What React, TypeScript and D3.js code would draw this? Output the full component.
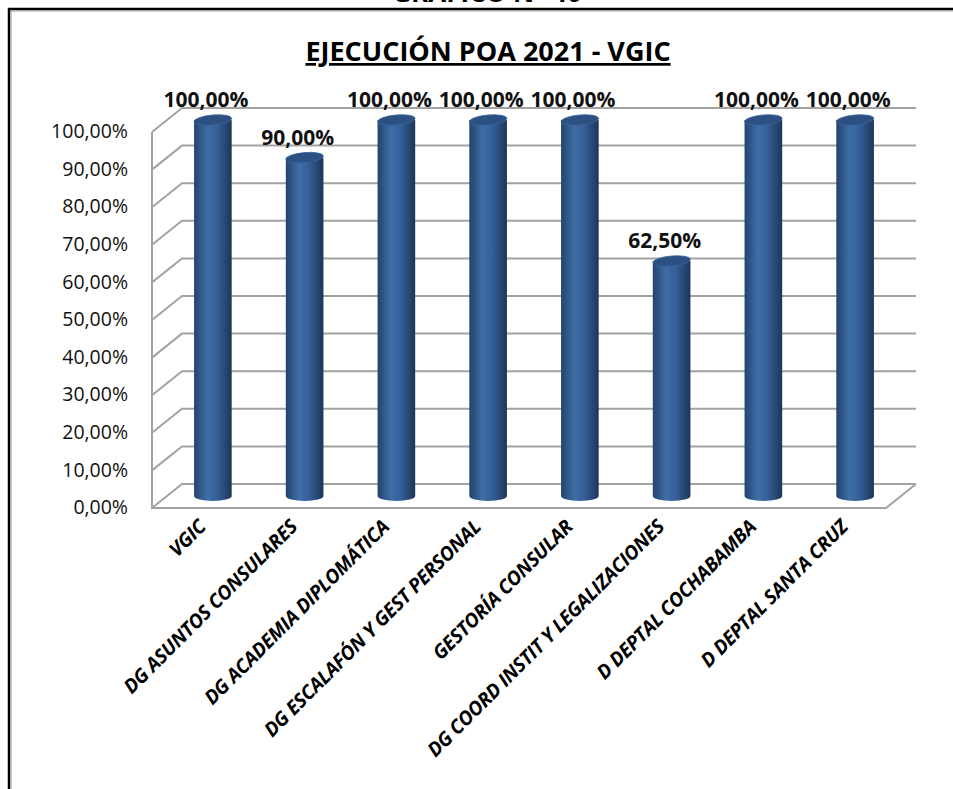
import React, { useEffect, useRef } from "react";
import * as d3 from "d3";

const categories = [
  "VGIC",
  "DG ASUNTOS CONSULARES",
  "DG ACADEMIA DIPLOMÁTICA",
  "DG ESCALAFÓN Y GEST PERSONAL",
  "GESTORÍA CONSULAR",
  "DG COORD INSTIT Y LEGALIZACIONES",
  "D DEPTAL COCHABAMBA",
  "D DEPTAL SANTA CRUZ",
];
const values = [1.0, 0.9, 1.0, 1.0, 1.0, 0.625, 1.0, 1.0];
const yTicks = [0, 0.1, 0.2, 0.3, 0.4, 0.5, 0.6, 0.7, 0.8, 0.9, 1.0];

const FONT = "'Open Sans', 'Liberation Sans', sans-serif";

const App = () => {
  const svgRef = useRef<SVGSVGElement | null>(null);

  useEffect(() => {
    const root = d3.select(svgRef.current);
    root.selectAll("*").remove();

    const W = 953;
    const H = 789;
    root.attr("width", W).attr("height", H);

    // 3D depth offset of the back wall
    const dx = 30;
    const dy = -24;

    const x = d3.scaleBand().domain(categories).range([152, 886]);
    const y = d3.scaleLinear().domain([0, 1]).range([508, 132]);
    const fmt = (v: number) => d3.format(".2f")(v * 100).replace(".", ",") + "%";

    const defs = root.append("defs");
    const grad = defs
      .append("linearGradient")
      .attr("id", "cyl")
      .attr("x1", "0%")
      .attr("x2", "100%");
    grad.append("stop").attr("offset", "0%").attr("stop-color", "#23436e");
    grad.append("stop").attr("offset", "35%").attr("stop-color", "#3f6da5");
    grad.append("stop").attr("offset", "60%").attr("stop-color", "#36609a");
    grad.append("stop").attr("offset", "100%").attr("stop-color", "#1d3659");

    // frame
    root
      .append("rect")
      .attr("x", 0)
      .attr("y", 0)
      .attr("width", W)
      .attr("height", H)
      .attr("fill", "#fff");
    // page heading, cut by the top edge as in the source
    root
      .append("text")
      .attr("x", 487)
      .attr("y", 2)
      .attr("text-anchor", "middle")
      .attr("font-family", FONT)
      .attr("font-weight", 700)
      .attr("font-size", 26)
      .text("GRÁFICO N° 40");
    root
      .append("path")
      .attr("d", `M9,${H} V9 H${W}`)
      .attr("fill", "none")
      .attr("stroke", "#000")
      .attr("stroke-width", 2.5);
    root
      .append("path")
      .attr("d", `M11,${H} V11 H${W}`)
      .attr("fill", "none")
      .attr("stroke", "#9a9a9a")
      .attr("stroke-width", 1);

    // title
    root
      .append("text")
      .attr("x", 488)
      .attr("y", 61)
      .attr("text-anchor", "middle")
      .attr("font-family", FONT)
      .attr("font-weight", 700)
      .attr("font-size", 27)
      .attr("text-decoration", "underline")
      .text("EJECUCIÓN POA 2021 - VGIC");

    const x0 = x.range()[0];
    const x1 = x.range()[1];
    const grid = root.append("g").attr("stroke", "#a3a3a3").attr("stroke-width", 2).attr("fill", "none");

    yTicks.forEach((t) => {
      grid
        .append("path")
        .attr("d", `M${x0},${y(t)} L${x0 + dx},${y(t) + dy} H${x1 + dx}`);
    });
    // front vertical edge, floor
    grid.append("path").attr("d", `M${x0},${y(1)} V${y(0)} H${x1} L${x1 + dx},${y(0) + dy}`);

    // y labels
    root
      .append("g")
      .selectAll("text")
      .data(yTicks)
      .enter()
      .append("text")
      .attr("x", 128)
      .attr("y", (d) => y(d) + 1)
      .attr("text-anchor", "end")
      .attr("dominant-baseline", "middle")
      .attr("font-family", FONT)
      .attr("font-size", 19.5)
      .attr("fill", "#111")
      .text((d) => fmt(d));

    // bars
    const rx = x.bandwidth() * 0.205;
    const ry = 5;
    const cx = (c: string) => (x(c) as number) + x.bandwidth() / 2 + dx / 2;
    const cy = (v: number) => y(v) + dy / 2;
    const bars = root.append("g");
    categories.forEach((c, i) => {
      const v = values[i];
      const X = cx(c);
      const top = cy(v);
      const bot = cy(0);
      bars
        .append("path")
        .attr(
          "d",
          `M${X - rx},${top} V${bot} A${rx},${ry} 0 0 0 ${X + rx},${bot} V${top} Z`
        )
        .attr("fill", "url(#cyl)");
      bars
        .append("ellipse")
        .attr("cx", X)
        .attr("cy", top)
        .attr("rx", rx)
        .attr("ry", ry)
        .attr("transform", `rotate(-5 ${X} ${top})`)
        .attr("fill", "#2c5082")
        .attr("stroke", "#3a639a")
        .attr("stroke-width", 0.8);
      bars
        .append("text")
        .attr("x", X - 7)
        .attr("y", top - 13)
        .attr("text-anchor", "middle")
        .attr("font-family", FONT)
        .attr("font-weight", 700)
        .attr("font-size", 21)
        .attr("fill", "#111")
        .text(fmt(v));
    });

    // category labels
    root
      .append("g")
      .selectAll("text")
      .data(categories)
      .enter()
      .append("text")
      .attr("transform", (d) => `translate(${cx(d) - 6},${528}) rotate(-45)`)
      .attr("text-anchor", "end")
      .attr("font-family", FONT)
      .attr("font-weight", 700)
      .attr("font-style", "italic")
      .attr("font-size", 19.5)
      .attr("letter-spacing", -0.3)
      .attr("fill", "#000")
      .text((d) => d);
  }, []);

  return (
    <svg
      ref={svgRef}
      style={{ position: "absolute", left: 0, top: 0, display: "block" }}
    ></svg>
  );
};

export default App;
